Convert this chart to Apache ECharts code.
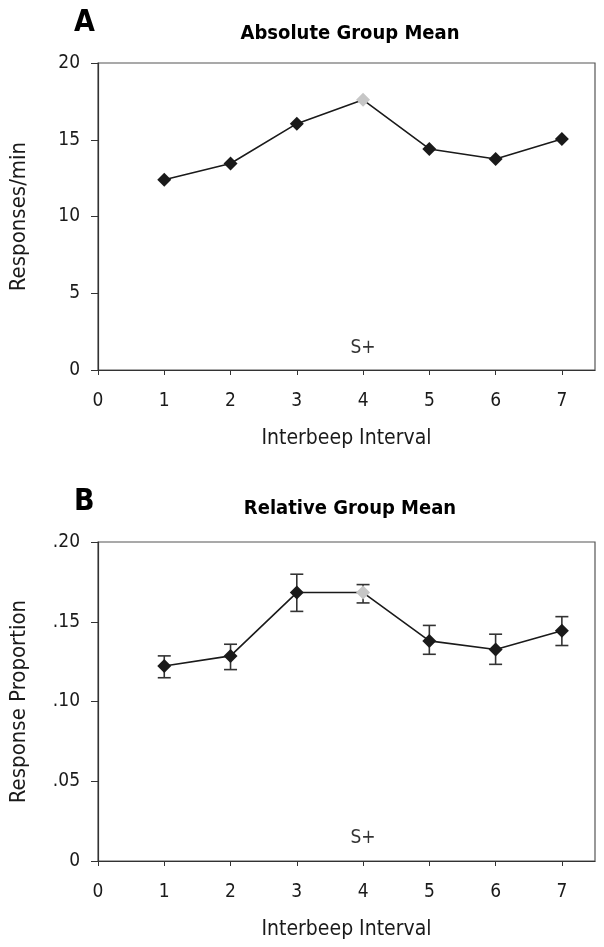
<!DOCTYPE html>
<html>
<head>
<meta charset="utf-8">
<script src="https://cdn.jsdelivr.net/npm/echarts@6/dist/echarts.min.js"></script>
<style>
  html, body { margin: 0; padding: 0; background: #fff; }
  #chart { width: 604px; height: 947px; }
</style>
</head>
<body>
<div id="chart"></div>
<script>
// data
const intervals = [1, 2, 3, 4, 5, 6, 7];
const absoluteMean = [12.4, 13.45, 16.05, 17.6, 14.4, 13.75, 15.05];
const relativeMean = [0.1223, 0.1286, 0.1683, 0.1683, 0.1380, 0.1326, 0.1443];
const relativeLow  = [0.1149, 0.1200, 0.1565, 0.1618, 0.1296, 0.1233, 0.1351];
const relativeHigh = [0.1286, 0.1359, 0.1798, 0.1733, 0.1477, 0.1422, 0.1532];
const splusIndex = 3;   // interval 4 is the S+ (grey marker)
const xTicks = [0, 1, 2, 3, 4, 5, 6, 7];
const absTicks = [0, 5, 10, 15, 20];
const relTicks = [0, 0.05, 0.10, 0.15, 0.20];
const splusAbs = [4, 1.45];
const splusRel = [4, 0.0141];

const FONT = '"DejaVu Sans Condensed", "Liberation Sans Narrow", sans-serif';
const INK = '#1a1a1a';

const chart = echarts.init(document.getElementById('chart'));

function points(vals) {
  return intervals.map((x, i) => ({
    value: [x, vals[i]],
    itemStyle: { color: i === splusIndex ? '#c6c6c6' : INK }
  }));
}

function xAxisFor(gridIndex) {
  return {
    type: 'value', gridIndex: gridIndex, min: 0, max: 7.5, interval: 1,
    name: 'Interbeep Interval', nameLocation: 'middle', nameGap: 58,
    nameTextStyle: { fontFamily: FONT, fontSize: 21, color: INK },
    axisLine: { lineStyle: { color: '#333', width: 1.2 } },
    axisTick: { length: 5, customValues: xTicks, lineStyle: { color: '#333' } },
    axisLabel: { customValues: xTicks, margin: 22, fontFamily: FONT, fontSize: 19, color: INK },
    splitLine: { show: false }
  };
}

function yAxisFor(gridIndex, ticks, name, fmt) {
  return {
    type: 'value', gridIndex: gridIndex, min: ticks[0], max: ticks[ticks.length - 1],
    interval: ticks[1] - ticks[0],
    name: name, nameLocation: 'middle', nameGap: 68,
    nameTextStyle: { fontFamily: FONT, fontSize: 22, color: INK },
    axisLine: { show: true, lineStyle: { color: '#333', width: 1.2 } },
    axisTick: { show: true, length: 7, lineStyle: { color: '#333' } },
    axisLabel: { margin: 18, fontFamily: FONT, fontSize: 19, color: INK, formatter: fmt },
    splitLine: { show: false }
  };
}

const relFmt = v => v === 0 ? '0' : v.toFixed(2).replace(/^0/, '');

const splusLabel = {
  show: true, position: 'inside', formatter: 'S+',
  fontFamily: FONT, fontSize: 19, color: '#000'
};

chart.setOption({
  animation: false,
  title: [
    { text: 'A', left: 69, top: 3, textStyle: { fontFamily: FONT, fontWeight: 'bold', fontSize: 30, color: '#000' } },
    { text: 'Absolute Group Mean', left: 345, top: 19, textAlign: 'center',
      textStyle: { fontFamily: FONT, fontWeight: 'bold', fontSize: 20, color: '#000' } },
    { text: 'B', left: 69, top: 482, textStyle: { fontFamily: FONT, fontWeight: 'bold', fontSize: 30, color: '#000' } },
    { text: 'Relative Group Mean', left: 345, top: 494, textAlign: 'center',
      textStyle: { fontFamily: FONT, fontWeight: 'bold', fontSize: 20, color: '#000' } }
  ],
  grid: [
    { left: 97, top: 63, width: 498, height: 307, show: true, borderColor: '#555', borderWidth: 1.2 },
    { left: 97, top: 542, width: 498, height: 319, show: true, borderColor: '#555', borderWidth: 1.2 }
  ],
  xAxis: [xAxisFor(0), xAxisFor(1)],
  yAxis: [
    yAxisFor(0, absTicks, 'Responses/min'),
    yAxisFor(1, relTicks, 'Response Proportion', relFmt)
  ],
  series: [
    {
      type: 'line', xAxisIndex: 0, yAxisIndex: 0, data: points(absoluteMean),
      symbol: 'diamond', symbolSize: 14,
      lineStyle: { color: INK, width: 1.6 }, z: 3
    },
    {
      type: 'custom', xAxisIndex: 1, yAxisIndex: 1,
      data: intervals.map((x, i) => [x, relativeLow[i], relativeHigh[i]]),
      renderItem: function (params, api) {
        const lo = api.coord([api.value(0), api.value(1)]);
        const hi = api.coord([api.value(0), api.value(2)]);
        const w = 6.5;
        const style = { stroke: '#333', lineWidth: 1.6 };
        return {
          type: 'group',
          children: [
            { type: 'line', shape: { x1: lo[0], y1: lo[1], x2: hi[0], y2: hi[1] }, style: style },
            { type: 'line', shape: { x1: lo[0] - w, y1: lo[1], x2: lo[0] + w, y2: lo[1] }, style: style },
            { type: 'line', shape: { x1: hi[0] - w, y1: hi[1], x2: hi[0] + w, y2: hi[1] }, style: style }
          ]
        };
      },
      z: 2
    },
    {
      type: 'line', xAxisIndex: 1, yAxisIndex: 1, data: points(relativeMean),
      symbol: 'diamond', symbolSize: 14,
      lineStyle: { color: INK, width: 1.6 }, z: 3
    },
    {
      type: 'scatter', xAxisIndex: 0, yAxisIndex: 0, data: [splusAbs], symbolSize: 0,
      label: splusLabel, emphasis: { disabled: true }
    },
    {
      type: 'scatter', xAxisIndex: 1, yAxisIndex: 1, data: [splusRel], symbolSize: 0,
      label: splusLabel, emphasis: { disabled: true }
    }
  ]
});
</script>
</body>
</html>
